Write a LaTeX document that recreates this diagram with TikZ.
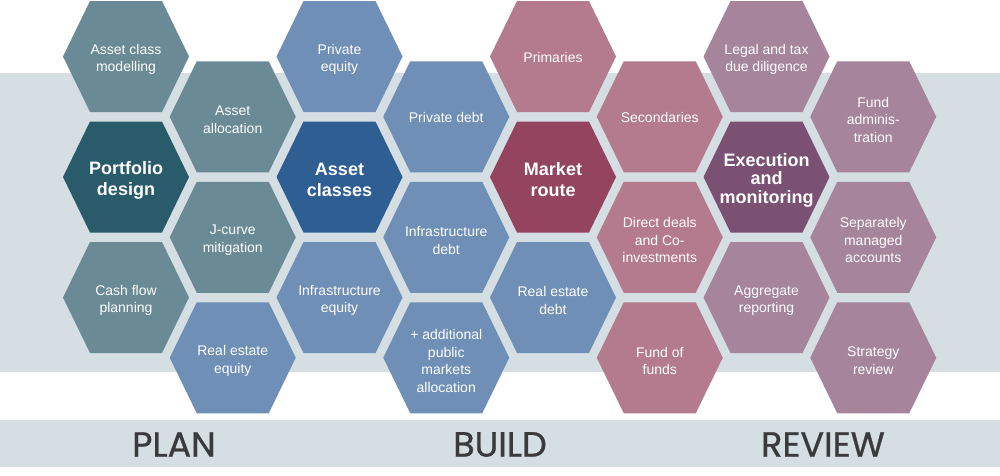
\documentclass[tikz,border=0pt]{standalone}
\usepackage{fontspec}
\setmainfont{Liberation Sans}
\newfontfamily\phasefont{Poppins}[FakeBold=0.8]
\usepackage{xcolor}
\usetikzlibrary{positioning}

\definecolor{bandgray}{HTML}{D5DEE3}
\definecolor{plancol}{HTML}{6A8A95}
\definecolor{plandark}{HTML}{2A5B6B}
\definecolor{buildcol}{HTML}{6F8FB6}
\definecolor{builddark}{HTML}{2F5E93}
\definecolor{routecol}{HTML}{B47B8E}
\definecolor{routedark}{HTML}{94445F}
\definecolor{reviewcol}{HTML}{A5849C}
\definecolor{reviewdark}{HTML}{7A5173}
\definecolor{phasetext}{HTML}{3A3A3C}

% hexagon tile: centre, fill, text style, name, text
\newcommand{\hexcell}[5]{%
    \fill[#2] (#1) +(-63,0) -- +(-36,-55.5) -- +(36,-55.5) -- +(63,0)
        -- +(36,55.5) -- +(-36,55.5) -- cycle;
    \node[#3] (#4) at (#1) {#5};}

\begin{document}
\begin{tikzpicture}[
    x=1pt, y=-1pt,
    hextext/.style={text=white, align=center, inner sep=0pt, yshift=-3pt, font=\fontsize{14}{17.5}\selectfont},
    hexsingle/.style={hextext, yshift=2pt},
    hexbold/.style={text=white, align=center, inner sep=0pt, yshift=-3pt, font=\bfseries\fontsize{18}{21}\selectfont},
    phase/.style={text=phasetext, inner sep=0pt, font=\phasefont\fontsize{35}{35}\selectfont}
]
    \useasboundingbox (0,0) rectangle (1000,475);

    % Bands
    \fill[bandgray] (0,73) rectangle (1000,372);
    \fill[bandgray] (0,420) rectangle (1000,467);

    % Plan
    \hexcell{126,56.5}{plancol}{hextext}{modelling}{Asset class\\modelling}
    \hexcell{126,177}{plandark}{hexbold}{portfolio}{Portfolio\\design}
    \hexcell{126,297.5}{plancol}{hextext}{cashflow}{Cash flow\\planning}
    \hexcell{232.75,116.75}{plancol}{hextext}{allocation}{Asset\\allocation}
    \hexcell{232.75,237.25}{plancol}{hextext}{jcurve}{J-curve\\mitigation}
    \hexcell{232.75,357.75}{buildcol}{hextext}{reequity}{Real estate\\equity}

    % Build
    \hexcell{339.5,56.5}{buildcol}{hextext}{privequity}{Private\\equity}
    \hexcell{339.5,177}{builddark}{hexbold}{classes}{Asset\\classes}
    \hexcell{339.5,297.5}{buildcol}{hextext}{infraequity}{Infrastructure\\equity}
    \hexcell{446.25,116.75}{buildcol}{hexsingle}{privdebt}{Private debt}
    \hexcell{446.25,237.25}{buildcol}{hextext}{infradebt}{Infrastructure\\debt}
    \hexcell{446.25,357.75}{buildcol}{hextext}{public}{+ additional\\public\\markets\\allocation}
    \hexcell{553,56.5}{routecol}{hexsingle}{primaries}{Primaries}
    \hexcell{553,177}{routedark}{hexbold}{route}{Market\\route}
    \hexcell{553,297.5}{buildcol}{hextext}{redebt}{Real estate\\debt}
    \hexcell{659.75,116.75}{routecol}{hexsingle}{secondaries}{Secondaries}
    \hexcell{659.75,237.25}{routecol}{hextext}{direct}{Direct deals\\and Co-\\investments}
    \hexcell{659.75,357.75}{routecol}{hextext}{fof}{Fund of\\funds}

    % Review
    \hexcell{766.5,56.5}{reviewcol}{hextext}{legal}{Legal and tax\\due diligence}
    \hexcell{766.5,177}{reviewdark}{hexbold, font=\bfseries\fontsize{18}{18.5}\selectfont}{execution}{Execution\\and\\monitoring}
    \hexcell{766.5,297.5}{reviewcol}{hextext}{aggregate}{Aggregate\\reporting}
    \hexcell{873.25,116.75}{reviewcol}{hextext}{fundadmin}{Fund\\adminis-\\tration}
    \hexcell{873.25,237.25}{reviewcol}{hextext}{sma}{Separately\\managed\\accounts}
    \hexcell{873.25,357.75}{reviewcol}{hextext}{strategy}{Strategy\\review}

    % Phase labels
    \node[phase] (plan) at (174,444.5) {PLAN};
    \node[phase] (build) at (500,444.5) {BUILD};
    \node[phase] (review) at (823,444.5) {REVIEW};
\end{tikzpicture}
\end{document}
